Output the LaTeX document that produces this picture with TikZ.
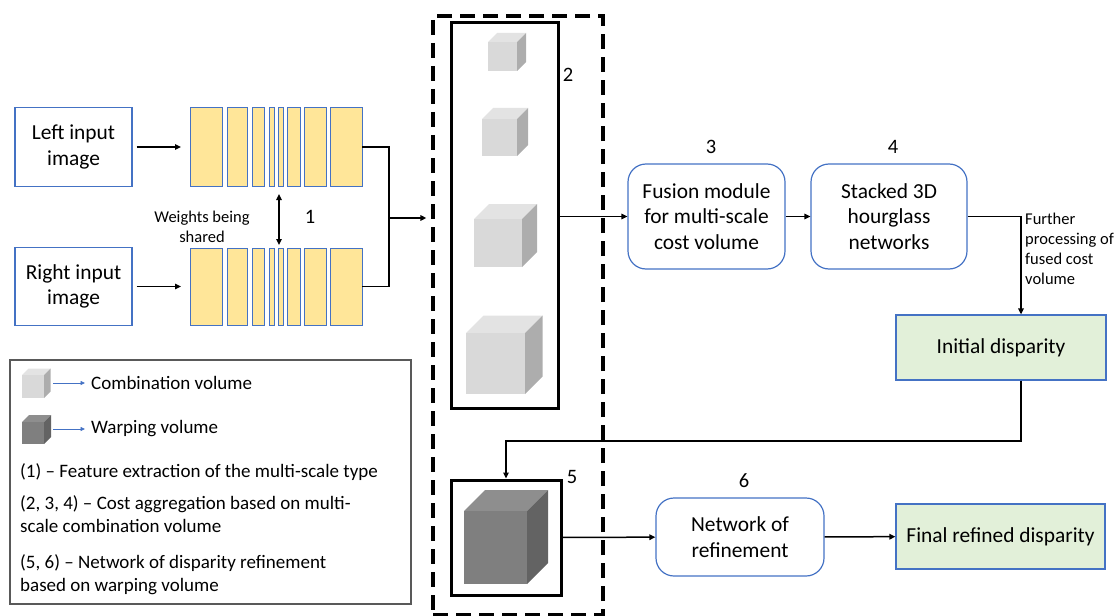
\documentclass[tikz,border=0pt]{standalone}
\usepackage{fontspec}
\setmainfont{Carlito}
\usetikzlibrary{arrows.meta,calc}

\definecolor{boxblue}{HTML}{4472C4}
\definecolor{bary}{HTML}{FFE699}
\definecolor{lgreen}{HTML}{E2F0D9}
\definecolor{ltop}{HTML}{E3E3E3}
\definecolor{lfront}{HTML}{D9D9D9}
\definecolor{lside}{HTML}{ADADAD}
\definecolor{dtop}{HTML}{8E8E8E}
\definecolor{dfront}{HTML}{7F7F7F}
\definecolor{dside}{HTML}{636363}
\definecolor{legendgray}{HTML}{595959}

\newcommand{\lblfont}{\fontsize{21.4}{25.5}\selectfont}
\newcommand{\numfont}{\fontsize{20.5}{24}\selectfont}
\newcommand{\notefont}{\fontsize{16.5}{20}\selectfont}
\newcommand{\legfont}{\fontsize{19}{23}\selectfont}

% shaded cube: left, top, width, height, depth, colour prefix (l or d)
\newcommand{\volcube}[6]{%
  \fill[#6top] (#1,#2) -- ++(#5,-#5) -- ++(#3,0) -- ++(-#5,#5) -- cycle;
  \fill[#6side] ({#1+#3},#2) -- ++(#5,-#5) -- ++(0,#4) -- ++(-#5,#5) -- cycle;
  \fill[#6front] (#1,#2) rectangle ++(#3,#4);
}

\tikzset{
  inbox/.style={draw=boxblue, line width=1.2pt, minimum width=117pt, align=center,
    font=\lblfont, inner sep=0},
  bar/.style={draw=boxblue, line width=1pt, fill=bary, inner sep=0, outer sep=0},
  roundbox/.style={draw=boxblue, line width=1.2pt, rounded corners=18pt, align=center,
    font=\lblfont, inner sep=0},
  greenbox/.style={draw=boxblue, line width=1.2pt, fill=lgreen, font=\lblfont, inner sep=0},
  framebox/.style={draw=black, line width=3pt, inner sep=0},
  stagebox/.style={draw=black, line width=3.3pt, dash pattern=on 15pt off 8pt, inner sep=0},
  numlbl/.style={font=\numfont, inner sep=0},
  conn/.style={draw=black, line width=1.5pt},
  arr/.style={conn, -{Triangle[length=6pt,width=5.5pt]}},
  dblarr/.style={conn, {Triangle[length=6pt,width=5.5pt]}-{Triangle[length=6pt,width=5.5pt]}},
  legarr/.style={draw=boxblue, line width=0.8pt, -{Triangle[length=4.5pt,width=4pt]}},
  legtxt/.style={font=\legfont, align=left, inner sep=3pt},
}

\begin{document}
\begin{tikzpicture}[x=1pt, y=-1pt]
\useasboundingbox (0,0) rectangle (1115,615);

% input images
\node[inbox, minimum height=79pt] (left) at (73.5,147) {Left input\\image};
\node[inbox, minimum height=78pt] (right) at (73.5,286.5) {Right input\\image};

% shared-weight feature extractors
\foreach \a/\b [count=\i] in {190/222, 227/247, 252/264, 269/274, 278/283, 287/300, 304/326, 330/362} {
  \node[bar, minimum width={\b-\a}, minimum height=78pt] (tb\i) at ({(\a+\b)/2},147) {};
  \node[bar, minimum width={\b-\a}, minimum height=77pt] (bb\i) at ({(\a+\b)/2},286.5) {};
}
\draw[arr] ([xshift=4pt]left.east) -- ([xshift=-9pt]tb1.west);
\draw[arr] ([xshift=4pt]right.east) -- ([xshift=-9pt]bb1.west);

\coordinate (wtop) at (279,194);
\coordinate (wbot) at (279,245);
\draw[dblarr] (wtop) -- (wbot);
\node[font=\notefont, align=center, inner sep=0] (weights) at (202,226.5) {Weights being\\shared};
\node[numlbl] (n1) at (310,217) {1};

% cost aggregation / refinement column
\node[stagebox, minimum width=170pt, minimum height=599pt] (stage) at (518,315.5) {};
\node[framebox, minimum width=107pt, minimum height=385pt] (vol2) at (504.5,215.5) {};
\node[framebox, minimum width=110pt, minimum height=115pt] (warp) at (506,537.5) {};
\node[numlbl] (n2) at (568,75) {2};
\node[numlbl] (n5) at (572,477) {5};

\volcube{488}{42}{29}{29}{9}{l}
\volcube{482}{119}{35}{37}{11}{l}
\volcube{474}{219}{48}{48}{15}{l}
\volcube{466}{333}{59}{61}{17.5}{l}
\volcube{464}{511}{63}{73}{21}{d}

\coordinate (join) at (389,218);
\draw[conn] (tb8.east) -| (join);
\draw[conn] (bb8.east) -| (join);
\draw[arr] (join) -- ([xshift=-5pt]join -| stage.west);

% processing chain
\node[roundbox, minimum width=157pt, minimum height=105pt] (fusion) at (706.5,216.5)
  {Fusion module\\for multi-scale\\cost volume};
\node[roundbox, minimum width=156pt, minimum height=105pt] (stacked) at (889,216.5)
  {Stacked 3D\\hourglass\\networks};
\node[numlbl] (n3) at (711,147) {3};
\node[numlbl] (n4) at (893,147) {4};
\node[greenbox, minimum width=210pt, minimum height=65pt] (init) at (1001,347.5) {Initial disparity};
\node[roundbox, minimum width=168pt, minimum height=78pt] (refine) at (740,537) {Network of\\refinement};
\node[numlbl] (n6) at (744,481) {6};
\node[greenbox, minimum width=209pt, minimum height=65pt] (final) at (1000.5,536.5) {Final refined disparity};

\draw[arr] (vol2.east |- fusion.west) -- (fusion.west);
\draw[arr] (fusion) -- (stacked);
\coordinate (drop) at (1021,216.5);
\draw[arr] (stacked.east) -- (drop) -- (drop |- init.north);
\node[font=\notefont, align=left, anchor=west, inner sep=0] (further) at (1025,249)
  {Further\\processing of\\fused cost\\volume};
\coordinate (back) at (1021,441);
\draw[arr] (back |- init.south) -- (back) -| (warp.north);
\draw[arr] (warp) -- (refine);
\draw[arr] (refine) -- (final);

% legend
\node[draw=legendgray, line width=1.3pt, minimum width=401pt, minimum height=244pt, inner sep=0]
  (legend) at (210.5,482) {};
\volcube{22}{375}{22}{23}{6.5}{l}
\volcube{22}{422}{22}{22}{7}{d}
\node[legtxt, anchor=west] (combtxt) at (88,383) {Combination volume};
\node[legtxt, anchor=west] (warptxt) at (88,429) {Warping volume};
\coordinate (combsrc) at (53,383);
\coordinate (warpsrc) at (53,429);
\draw[legarr] (combsrc) -- ([xshift=-3pt]combtxt.west);
\draw[legarr] (warpsrc) -- ([xshift=-3pt]warptxt.west);
\node[legtxt, anchor=west] (l1) at (17,472) {(1) – Feature extraction of the multi-scale type};
\node[legtxt, anchor=west] (l2) at (17,514.5) {(2, 3, 4) – Cost aggregation based on multi-\\scale combination volume};
\node[legtxt, anchor=west] (l3) at (17,575) {(5, 6) – Network of disparity refinement\\based on warping volume};
\end{tikzpicture}
\end{document}
